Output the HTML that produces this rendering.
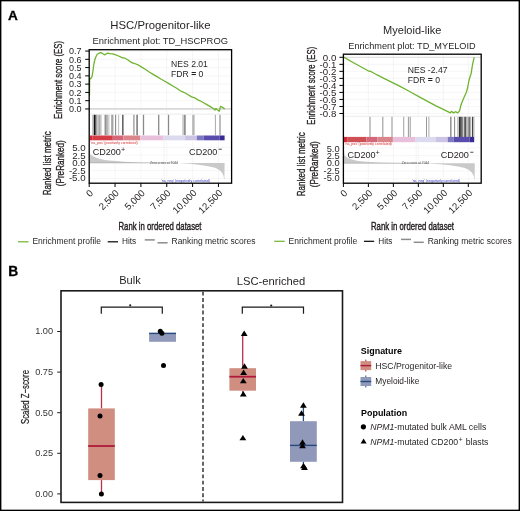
<!DOCTYPE html>
<html><head><meta charset="utf-8"><style>html,body{margin:0;padding:0;background:#fff;}svg{display:block;will-change:transform;}</style></head><body>
<svg width="520" height="511" viewBox="0 0 520 511" font-family='"Liberation Sans", sans-serif'>
<rect x="0" y="0" width="520" height="511" fill="#fff"/>
<rect x="0.7" y="0.65" width="518.6" height="509.7" fill="none" stroke="#000" stroke-width="1.4"/>
<text x="7.9" y="19.8" font-size="13.6" text-anchor="start" fill="#000" font-weight="bold" stroke="#000" stroke-width="0.3">A</text>
<text x="8.3" y="276.3" font-size="13.8" text-anchor="start" fill="#000" font-weight="bold" stroke="#000" stroke-width="0.3">B</text>
<text x="160.4" y="29.4" font-size="11" text-anchor="middle" fill="#231f20" textLength="100.2" lengthAdjust="spacingAndGlyphs">HSC/Progenitor-like</text>
<text x="160.3" y="43.7" font-size="9.3" text-anchor="middle" fill="#231f20" textLength="135.4" lengthAdjust="spacingAndGlyphs">Enrichment plot: TD_HSCPROG</text>
<line x1="89.2" x2="231.6" y1="51.06" y2="51.06" stroke="#f0f0f0" stroke-width="0.6"/>
<line x1="89.2" x2="231.6" y1="59.33" y2="59.33" stroke="#f0f0f0" stroke-width="0.6"/>
<line x1="89.2" x2="231.6" y1="67.60" y2="67.60" stroke="#f0f0f0" stroke-width="0.6"/>
<line x1="89.2" x2="231.6" y1="75.87" y2="75.87" stroke="#f0f0f0" stroke-width="0.6"/>
<line x1="89.2" x2="231.6" y1="84.14" y2="84.14" stroke="#f0f0f0" stroke-width="0.6"/>
<line x1="89.2" x2="231.6" y1="92.41" y2="92.41" stroke="#f0f0f0" stroke-width="0.6"/>
<line x1="89.2" x2="231.6" y1="100.68" y2="100.68" stroke="#f0f0f0" stroke-width="0.6"/>
<line x1="89.2" x2="231.6" y1="108.95" y2="108.95" stroke="#f0f0f0" stroke-width="0.6"/>
<line x1="89.20" x2="89.20" y1="49.7" y2="114.2" stroke="#efefef" stroke-width="0.6"/>
<line x1="115.05" x2="115.05" y1="49.7" y2="114.2" stroke="#efefef" stroke-width="0.6"/>
<line x1="140.90" x2="140.90" y1="49.7" y2="114.2" stroke="#efefef" stroke-width="0.6"/>
<line x1="166.75" x2="166.75" y1="49.7" y2="114.2" stroke="#efefef" stroke-width="0.6"/>
<line x1="192.60" x2="192.60" y1="49.7" y2="114.2" stroke="#efefef" stroke-width="0.6"/>
<line x1="218.45" x2="218.45" y1="49.7" y2="114.2" stroke="#efefef" stroke-width="0.6"/>
<line x1="89.2" x2="231.6" y1="108.95" y2="108.95" stroke="#d9d9d9" stroke-width="1.8"/>
<line x1="89.2" x2="231.6" y1="114.2" y2="114.2" stroke="#ececec" stroke-width="1"/>
<polyline points="89.5,95.6 89.6,78.2 90.6,78.8 92.1,76.3 93.0,70.5 94.0,63.5 95.0,59.2 95.7,57.3 97.2,54.3 99.0,53.2 100.7,52.6 102.1,53.2 103.6,54.2 105.0,54.8 106.5,53.8 107.6,53.1 109.9,53.7 112.2,53.8 114.5,54.3 117.4,55.5 122.7,57.9 124.2,57.8 128.1,60.0 130.0,61.6 133.1,63.2 134.7,63.5 138.6,65.2 141.7,67.1 145.6,69.5 149.6,72.2 153.5,74.6 157.4,76.9 161.3,79.3 165.2,81.5 168.9,83.6 172.8,86.0 176.7,88.3 180.6,91.0 183.8,92.4 185.3,93.0 188.5,95.0 191.6,96.9 194.7,97.8 197.9,99.9 200.0,100.8 203.5,102.7 206.9,104.6 210.4,106.6 213.8,108.8 215.0,110.1 215.9,108.6 217.3,109.7 219.3,111.2 220.5,106.3 222.5,107.4 224.8,109.0" fill="none" stroke="#6fb32f" stroke-width="1.3" stroke-linejoin="round"/>
<text x="81.6" y="54.260000000000005" font-size="9" text-anchor="end" fill="#231f20">0.7</text>
<line x1="85.2" x2="89.2" y1="51.06" y2="51.06" stroke="#000" stroke-width="1"/>
<text x="81.6" y="62.53000000000001" font-size="9" text-anchor="end" fill="#231f20">0.6</text>
<line x1="85.2" x2="89.2" y1="59.33" y2="59.33" stroke="#000" stroke-width="1"/>
<text x="81.6" y="70.80000000000001" font-size="9" text-anchor="end" fill="#231f20">0.5</text>
<line x1="85.2" x2="89.2" y1="67.60" y2="67.60" stroke="#000" stroke-width="1"/>
<text x="81.6" y="79.07000000000001" font-size="9" text-anchor="end" fill="#231f20">0.4</text>
<line x1="85.2" x2="89.2" y1="75.87" y2="75.87" stroke="#000" stroke-width="1"/>
<text x="81.6" y="87.34" font-size="9" text-anchor="end" fill="#231f20">0.3</text>
<line x1="85.2" x2="89.2" y1="84.14" y2="84.14" stroke="#000" stroke-width="1"/>
<text x="81.6" y="95.61" font-size="9" text-anchor="end" fill="#231f20">0.2</text>
<line x1="85.2" x2="89.2" y1="92.41" y2="92.41" stroke="#000" stroke-width="1"/>
<text x="81.6" y="103.88000000000001" font-size="9" text-anchor="end" fill="#231f20">0.1</text>
<line x1="85.2" x2="89.2" y1="100.68" y2="100.68" stroke="#000" stroke-width="1"/>
<text x="81.6" y="112.15" font-size="9" text-anchor="end" fill="#231f20">0.0</text>
<line x1="85.2" x2="89.2" y1="108.95" y2="108.95" stroke="#000" stroke-width="1"/>
<text x="171.1" y="67.4" font-size="8.6" text-anchor="start" fill="#231f20">NES 2.01</text>
<text x="171.1" y="77.4" font-size="8.6" text-anchor="start" fill="#231f20">FDR <tspan font-weight="bold">=</tspan> 0</text>
<rect x="92.30" y="114.8" width="1.2" height="20.39999999999999" fill="#b0b0b0"/>
<rect x="93.80" y="114.8" width="1.4" height="20.39999999999999" fill="#111"/>
<rect x="95.10" y="114.8" width="1" height="20.39999999999999" fill="#555"/>
<rect x="96.10" y="114.8" width="1.2" height="20.39999999999999" fill="#999"/>
<rect x="97.45" y="114.8" width="1.5" height="20.39999999999999" fill="#bbb"/>
<rect x="99.00" y="114.8" width="1" height="20.39999999999999" fill="#aaa"/>
<rect x="100.45" y="114.8" width="0.9" height="20.39999999999999" fill="#999"/>
<rect x="104.00" y="114.8" width="1" height="20.39999999999999" fill="#ccc"/>
<rect x="105.30" y="114.8" width="1.2" height="20.39999999999999" fill="#666"/>
<rect x="106.60" y="114.8" width="1.2" height="20.39999999999999" fill="#aaa"/>
<rect x="108.10" y="114.8" width="1.4" height="20.39999999999999" fill="#ccc"/>
<rect x="111.10" y="114.8" width="1.4" height="20.39999999999999" fill="#aaa"/>
<rect x="112.20" y="114.8" width="1.2" height="20.39999999999999" fill="#999"/>
<rect x="115.05" y="114.8" width="1.1" height="20.39999999999999" fill="#888"/>
<rect x="118.05" y="114.8" width="1.1" height="20.39999999999999" fill="#c0c0c0"/>
<rect x="122.00" y="114.8" width="1.6" height="20.39999999999999" fill="#666"/>
<rect x="133.25" y="114.8" width="1.3" height="20.39999999999999" fill="#999"/>
<rect x="136.30" y="114.8" width="1.2" height="20.39999999999999" fill="#888"/>
<rect x="136.80" y="114.8" width="1.2" height="20.39999999999999" fill="#8a8a8a"/>
<rect x="142.85" y="114.8" width="1.3" height="20.39999999999999" fill="#8a8a8a"/>
<rect x="158.05" y="114.8" width="1.3" height="20.39999999999999" fill="#8a8a8a"/>
<rect x="167.85" y="114.8" width="1.3" height="20.39999999999999" fill="#8a8a8a"/>
<rect x="182.15" y="114.8" width="1.7" height="20.39999999999999" fill="#d0d0d0"/>
<rect x="183.85" y="114.8" width="1.9" height="20.39999999999999" fill="#909090"/>
<rect x="192.20" y="114.8" width="2.4" height="20.39999999999999" fill="#b5b5b5"/>
<rect x="214.90" y="114.8" width="1" height="20.39999999999999" fill="#aaa"/>
<rect x="219.45" y="114.8" width="1.1" height="20.39999999999999" fill="#888"/>
<rect x="89.8" y="135.5" width="2.40" height="4.800000000000011" fill="#d8283a"/>
<rect x="92.2" y="135.5" width="20.60" height="4.800000000000011" fill="#d43c46"/>
<rect x="112.8" y="135.5" width="10.60" height="4.800000000000011" fill="#d4687a"/>
<rect x="123.4" y="135.5" width="16.80" height="4.800000000000011" fill="#da8589"/>
<rect x="140.2" y="135.5" width="23.40" height="4.800000000000011" fill="#e8c0dc"/>
<rect x="163.6" y="135.5" width="21.50" height="4.800000000000011" fill="#dcdaee"/>
<rect x="185.1" y="135.5" width="11.70" height="4.800000000000011" fill="#ccc4e4"/>
<rect x="196.8" y="135.5" width="6.80" height="4.800000000000011" fill="#7e78c0"/>
<rect x="203.6" y="135.5" width="16.00" height="4.800000000000011" fill="#5a4cac"/>
<rect x="219.6" y="135.5" width="5.00" height="4.800000000000011" fill="#3a2a94"/>
<line x1="89.20" x2="89.20" y1="141.3" y2="183.2" stroke="#f0f0f0" stroke-width="0.6"/>
<line x1="115.05" x2="115.05" y1="141.3" y2="183.2" stroke="#f0f0f0" stroke-width="0.6"/>
<line x1="140.90" x2="140.90" y1="141.3" y2="183.2" stroke="#f0f0f0" stroke-width="0.6"/>
<line x1="166.75" x2="166.75" y1="141.3" y2="183.2" stroke="#f0f0f0" stroke-width="0.6"/>
<line x1="192.60" x2="192.60" y1="141.3" y2="183.2" stroke="#f0f0f0" stroke-width="0.6"/>
<line x1="218.45" x2="218.45" y1="141.3" y2="183.2" stroke="#f0f0f0" stroke-width="0.6"/>
<line x1="89.2" x2="231.6" y1="178.40" y2="178.40" stroke="#f0f0f0" stroke-width="0.6"/>
<line x1="89.2" x2="231.6" y1="170.65" y2="170.65" stroke="#f0f0f0" stroke-width="0.6"/>
<line x1="89.2" x2="231.6" y1="155.15" y2="155.15" stroke="#f0f0f0" stroke-width="0.6"/>
<line x1="89.2" x2="231.6" y1="147.40" y2="147.40" stroke="#f0f0f0" stroke-width="0.6"/>
<polygon points="89.6,162.9 89.6,147.8 90.2,154.2 93.7,156.5 97.0,158.0 101.4,159.2 106.0,160.2 112.9,160.8 124.5,161.7 140.0,162.4 161.9,162.9 178.0,163.0 190.0,163.8 200.3,165.0 208.0,166.2 215.0,167.8 219.0,169.7 222.0,172.6 223.5,175.8 224.4,180.4 224.6,162.9" fill="#c9c9c9"/>
<line x1="89.2" x2="178" y1="162.9" y2="162.9" stroke="#9a9a9a" stroke-width="0.5"/>
<line x1="164.1" x2="164.1" y1="141.3" y2="183.2" stroke="#d8d8d8" stroke-width="0.6" stroke-dasharray="1,1"/>
<text x="90.6" y="143.6" font-size="3.2" text-anchor="start" fill="#d42a2a" textLength="47" lengthAdjust="spacingAndGlyphs">'na_pos' (positively correlated)</text>
<text x="150" y="163.9" font-size="2.9" text-anchor="start" fill="#555" textLength="28" lengthAdjust="spacingAndGlyphs">Zero cross at 7044</text>
<text x="161" y="181.6" font-size="3.2" text-anchor="start" fill="#3535c0" textLength="49" lengthAdjust="spacingAndGlyphs">'na_neg' (negatively correlated)</text>
<text x="92.7" y="155.2" font-size="9.3" text-anchor="start" fill="#231f20" textLength="28.2" lengthAdjust="spacingAndGlyphs">CD200</text>
<text x="120.9" y="151.89999999999998" font-size="7.2" text-anchor="start" fill="#231f20">+</text>
<text x="189.1" y="155.2" font-size="9.3" text-anchor="start" fill="#231f20" textLength="28.2" lengthAdjust="spacingAndGlyphs">CD200</text>
<rect x="218.60" y="148.80" width="3.2" height="0.8" fill="#231f20"/>
<text x="85.6" y="151.03199999999998" font-size="9.7" text-anchor="end" fill="#231f20">5.0</text>
<text x="85.6" y="158.61199999999997" font-size="9.7" text-anchor="end" fill="#231f20">2.5</text>
<text x="85.6" y="166.19199999999998" font-size="9.7" text-anchor="end" fill="#231f20">0.0</text>
<text x="85.6" y="173.772" font-size="9.7" text-anchor="end" fill="#231f20">-2.5</text>
<text x="85.6" y="181.35199999999998" font-size="9.7" text-anchor="end" fill="#231f20">-5.0</text>
<rect x="89.2" y="49.7" width="142.39999999999998" height="133.5" fill="none" stroke="#000" stroke-width="1.3"/>
<line x1="89.20" x2="89.20" y1="183.2" y2="187.0" stroke="#000" stroke-width="1"/>
<text transform="translate(93.80,193.60) rotate(-45)" font-size="9.6" text-anchor="end" fill="#231f20">0</text>
<line x1="115.05" x2="115.05" y1="183.2" y2="187.0" stroke="#000" stroke-width="1"/>
<text transform="translate(119.65,193.60) rotate(-45)" font-size="9.6" text-anchor="end" fill="#231f20">2,500</text>
<line x1="140.90" x2="140.90" y1="183.2" y2="187.0" stroke="#000" stroke-width="1"/>
<text transform="translate(145.50,193.60) rotate(-45)" font-size="9.6" text-anchor="end" fill="#231f20">5,000</text>
<line x1="166.75" x2="166.75" y1="183.2" y2="187.0" stroke="#000" stroke-width="1"/>
<text transform="translate(171.35,193.60) rotate(-45)" font-size="9.6" text-anchor="end" fill="#231f20">7,500</text>
<line x1="192.60" x2="192.60" y1="183.2" y2="187.0" stroke="#000" stroke-width="1"/>
<text transform="translate(197.20,193.60) rotate(-45)" font-size="9.6" text-anchor="end" fill="#231f20">10,000</text>
<line x1="218.45" x2="218.45" y1="183.2" y2="187.0" stroke="#000" stroke-width="1"/>
<text transform="translate(223.05,193.60) rotate(-45)" font-size="9.6" text-anchor="end" fill="#231f20">12,500</text>
<text x="160" y="229.7" font-size="11.4" text-anchor="middle" fill="#231f20" textLength="83" lengthAdjust="spacingAndGlyphs" stroke="#231f20" stroke-width="0.42">Rank in ordered dataset</text>
<text transform="translate(62,80) rotate(-90)" font-size="11.8" text-anchor="middle" fill="#231f20" stroke="#231f20" stroke-width="0.35" textLength="78" lengthAdjust="spacingAndGlyphs">Enrichment score (ES)</text>
<text transform="translate(50.5,163.2) rotate(-90)" font-size="11.8" text-anchor="middle" fill="#231f20" stroke="#231f20" stroke-width="0.35" textLength="64" lengthAdjust="spacingAndGlyphs">Ranked list metric</text>
<text transform="translate(64.2,163.2) rotate(-90)" font-size="11.8" text-anchor="middle" fill="#231f20" stroke="#231f20" stroke-width="0.35" textLength="46" lengthAdjust="spacingAndGlyphs">(PreRanked)</text>
<line x1="18" x2="28.5" y1="241.8" y2="241.8" stroke="#6fb32f" stroke-width="1.2"/>
<text x="32.4" y="244.10000000000002" font-size="8.5" text-anchor="start" fill="#231f20" textLength="68.6" lengthAdjust="spacingAndGlyphs">Enrichment profile</text>
<line x1="107.7" x2="118" y1="241.8" y2="241.8" stroke="#000" stroke-width="1.2"/>
<text x="122" y="244.10000000000002" font-size="8.5" text-anchor="start" fill="#231f20" textLength="14.2" lengthAdjust="spacingAndGlyphs">Hits</text>
<line x1="144.8" x2="154.8" y1="239.9" y2="239.9" stroke="#8c8c8c" stroke-width="1.5"/>
<line x1="157.5" x2="167.6" y1="242.8" y2="242.8" stroke="#8c8c8c" stroke-width="1.5"/>
<text x="171.5" y="244.10000000000002" font-size="8.5" text-anchor="start" fill="#231f20" textLength="84" lengthAdjust="spacingAndGlyphs">Ranking metric scores</text>
<text x="412.2" y="33.9" font-size="11" text-anchor="middle" fill="#231f20" textLength="58.2" lengthAdjust="spacingAndGlyphs">Myeloid-like</text>
<text x="412" y="48.8" font-size="9.3" text-anchor="middle" fill="#231f20" textLength="127.4" lengthAdjust="spacingAndGlyphs">Enrichment plot: TD_MYELOID</text>
<line x1="343.4" x2="481.2" y1="57.30" y2="57.30" stroke="#f0f0f0" stroke-width="0.6"/>
<line x1="343.4" x2="481.2" y1="64.33" y2="64.33" stroke="#f0f0f0" stroke-width="0.6"/>
<line x1="343.4" x2="481.2" y1="71.35" y2="71.35" stroke="#f0f0f0" stroke-width="0.6"/>
<line x1="343.4" x2="481.2" y1="78.38" y2="78.38" stroke="#f0f0f0" stroke-width="0.6"/>
<line x1="343.4" x2="481.2" y1="85.40" y2="85.40" stroke="#f0f0f0" stroke-width="0.6"/>
<line x1="343.4" x2="481.2" y1="92.42" y2="92.42" stroke="#f0f0f0" stroke-width="0.6"/>
<line x1="343.4" x2="481.2" y1="99.45" y2="99.45" stroke="#f0f0f0" stroke-width="0.6"/>
<line x1="343.4" x2="481.2" y1="106.47" y2="106.47" stroke="#f0f0f0" stroke-width="0.6"/>
<line x1="343.4" x2="481.2" y1="113.50" y2="113.50" stroke="#f0f0f0" stroke-width="0.6"/>
<line x1="343.40" x2="343.40" y1="54.2" y2="116.3" stroke="#efefef" stroke-width="0.6"/>
<line x1="368.38" x2="368.38" y1="54.2" y2="116.3" stroke="#efefef" stroke-width="0.6"/>
<line x1="393.36" x2="393.36" y1="54.2" y2="116.3" stroke="#efefef" stroke-width="0.6"/>
<line x1="418.34" x2="418.34" y1="54.2" y2="116.3" stroke="#efefef" stroke-width="0.6"/>
<line x1="443.32" x2="443.32" y1="54.2" y2="116.3" stroke="#efefef" stroke-width="0.6"/>
<line x1="468.30" x2="468.30" y1="54.2" y2="116.3" stroke="#efefef" stroke-width="0.6"/>
<line x1="343.4" x2="481.2" y1="57.3" y2="57.3" stroke="#dcdcdc" stroke-width="1.0"/>
<line x1="343.4" x2="481.2" y1="116.3" y2="116.3" stroke="#ececec" stroke-width="1"/>
<polyline points="343.6,57.3 344.2,57.4 352.6,62.2 362.2,67.5 369.0,71.2 370.9,71.5 376.7,74.7 383.4,78.1 390.0,81.3 399.6,86.1 409.2,91.3 418.8,96.6 428.5,101.9 436.0,105.8 443.3,109.3 450.3,112.9 451.5,111.4 453.6,112.9 455.4,111.7 457.8,112.9 459.6,110.8 460.6,106.5 461.5,103.5 462.7,100.5 464.0,97.5 465.7,93.8 466.6,91.5 467.5,88.3 468.4,83.5 469.3,79.2 470.3,76.0 471.2,73.2 472.1,67.1 473.0,62.3 474.2,57.4" fill="none" stroke="#6fb32f" stroke-width="1.3" stroke-linejoin="round"/>
<text x="336.3" y="60.699999999999996" font-size="9.7" text-anchor="end" fill="#231f20">0.0</text>
<line x1="339.4" x2="343.4" y1="57.30" y2="57.30" stroke="#000" stroke-width="1"/>
<text x="336.3" y="67.72500000000001" font-size="9.7" text-anchor="end" fill="#231f20">-0.1</text>
<line x1="339.4" x2="343.4" y1="64.33" y2="64.33" stroke="#000" stroke-width="1"/>
<text x="336.3" y="74.75" font-size="9.7" text-anchor="end" fill="#231f20">-0.2</text>
<line x1="339.4" x2="343.4" y1="71.35" y2="71.35" stroke="#000" stroke-width="1"/>
<text x="336.3" y="81.775" font-size="9.7" text-anchor="end" fill="#231f20">-0.3</text>
<line x1="339.4" x2="343.4" y1="78.38" y2="78.38" stroke="#000" stroke-width="1"/>
<text x="336.3" y="88.80000000000001" font-size="9.7" text-anchor="end" fill="#231f20">-0.4</text>
<line x1="339.4" x2="343.4" y1="85.40" y2="85.40" stroke="#000" stroke-width="1"/>
<text x="336.3" y="95.825" font-size="9.7" text-anchor="end" fill="#231f20">-0.5</text>
<line x1="339.4" x2="343.4" y1="92.42" y2="92.42" stroke="#000" stroke-width="1"/>
<text x="336.3" y="102.85000000000001" font-size="9.7" text-anchor="end" fill="#231f20">-0.6</text>
<line x1="339.4" x2="343.4" y1="99.45" y2="99.45" stroke="#000" stroke-width="1"/>
<text x="336.3" y="109.875" font-size="9.7" text-anchor="end" fill="#231f20">-0.7</text>
<line x1="339.4" x2="343.4" y1="106.47" y2="106.47" stroke="#000" stroke-width="1"/>
<text x="336.3" y="116.9" font-size="9.7" text-anchor="end" fill="#231f20">-0.8</text>
<line x1="339.4" x2="343.4" y1="113.50" y2="113.50" stroke="#000" stroke-width="1"/>
<text x="407.8" y="72.6" font-size="8.6" text-anchor="start" fill="#231f20">NES -2.47</text>
<text x="407.8" y="82.6" font-size="8.6" text-anchor="start" fill="#231f20">FDR <tspan font-weight="bold">=</tspan> 0</text>
<rect x="369.45" y="116.8" width="1.1" height="20.200000000000003" fill="#999"/>
<rect x="382.25" y="116.8" width="1.1" height="20.200000000000003" fill="#999"/>
<rect x="391.45" y="116.8" width="1.1" height="20.200000000000003" fill="#999"/>
<rect x="403.15" y="116.8" width="1.1" height="20.200000000000003" fill="#aaa"/>
<rect x="407.90" y="116.8" width="1" height="20.200000000000003" fill="#999"/>
<rect x="409.70" y="116.8" width="1" height="20.200000000000003" fill="#999"/>
<rect x="426.00" y="116.8" width="1" height="20.200000000000003" fill="#999"/>
<rect x="428.40" y="116.8" width="1" height="20.200000000000003" fill="#aaa"/>
<rect x="450.00" y="116.8" width="1.6" height="20.200000000000003" fill="#999"/>
<rect x="454.10" y="116.8" width="1" height="20.200000000000003" fill="#888"/>
<rect x="457.00" y="116.8" width="1" height="20.200000000000003" fill="#ccc"/>
<rect x="458.75" y="116.8" width="1.5" height="20.200000000000003" fill="#333"/>
<rect x="460.30" y="116.8" width="1.4" height="20.200000000000003" fill="#222"/>
<rect x="461.80" y="116.8" width="1.6" height="20.200000000000003" fill="#888"/>
<rect x="464.20" y="116.8" width="2.2" height="20.200000000000003" fill="#555"/>
<rect x="466.50" y="116.8" width="1.2" height="20.200000000000003" fill="#aaa"/>
<rect x="468.25" y="116.8" width="2.3" height="20.200000000000003" fill="#777"/>
<rect x="471.90" y="116.8" width="1.4" height="20.200000000000003" fill="#444"/>
<rect x="473.30" y="116.8" width="1.2" height="20.200000000000003" fill="#bbb"/>
<rect x="344" y="136.9" width="3.70" height="5.299999999999983" fill="#d42a36"/>
<rect x="347.7" y="136.9" width="18.80" height="5.299999999999983" fill="#ce5055"/>
<rect x="366.5" y="136.9" width="10.80" height="5.299999999999983" fill="#d4687a"/>
<rect x="377.3" y="136.9" width="15.60" height="5.299999999999983" fill="#da8589"/>
<rect x="392.9" y="136.9" width="22.70" height="5.299999999999983" fill="#e8c0dc"/>
<rect x="415.6" y="136.9" width="20.40" height="5.299999999999983" fill="#dcdaee"/>
<rect x="436" y="136.9" width="11.70" height="5.299999999999983" fill="#ccc4e4"/>
<rect x="447.7" y="136.9" width="6.10" height="5.299999999999983" fill="#7e78c0"/>
<rect x="453.8" y="136.9" width="15.90" height="5.299999999999983" fill="#5a4cac"/>
<rect x="469.7" y="136.9" width="4.50" height="5.299999999999983" fill="#3a2a94"/>
<line x1="343.40" x2="343.40" y1="143.2" y2="183.2" stroke="#f0f0f0" stroke-width="0.6"/>
<line x1="368.38" x2="368.38" y1="143.2" y2="183.2" stroke="#f0f0f0" stroke-width="0.6"/>
<line x1="393.36" x2="393.36" y1="143.2" y2="183.2" stroke="#f0f0f0" stroke-width="0.6"/>
<line x1="418.34" x2="418.34" y1="143.2" y2="183.2" stroke="#f0f0f0" stroke-width="0.6"/>
<line x1="443.32" x2="443.32" y1="143.2" y2="183.2" stroke="#f0f0f0" stroke-width="0.6"/>
<line x1="468.30" x2="468.30" y1="143.2" y2="183.2" stroke="#f0f0f0" stroke-width="0.6"/>
<line x1="343.4" x2="481.2" y1="178.70" y2="178.70" stroke="#f0f0f0" stroke-width="0.6"/>
<line x1="343.4" x2="481.2" y1="171.00" y2="171.00" stroke="#f0f0f0" stroke-width="0.6"/>
<line x1="343.4" x2="481.2" y1="155.60" y2="155.60" stroke="#f0f0f0" stroke-width="0.6"/>
<line x1="343.4" x2="481.2" y1="147.90" y2="147.90" stroke="#f0f0f0" stroke-width="0.6"/>
<polygon points="343.9,163.3 343.9,148.5 344.5,155.4 348.0,158.0 352.0,159.5 358.0,160.9 366.0,161.8 380.0,162.6 416.1,163.3 429.0,163.4 440.0,164.2 450.0,165.3 458.0,166.5 465.0,168.1 469.0,170.0 472.0,172.8 473.8,176.0 474.6,180.7 474.8,163.3" fill="#c9c9c9"/>
<line x1="343.4" x2="429" y1="163.3" y2="163.3" stroke="#9a9a9a" stroke-width="0.5"/>
<line x1="416.1" x2="416.1" y1="143.2" y2="183.2" stroke="#d8d8d8" stroke-width="0.6" stroke-dasharray="1,1"/>
<text x="344.8" y="144.9" font-size="3.2" text-anchor="start" fill="#d42a2a" textLength="47" lengthAdjust="spacingAndGlyphs">'na_pos' (positively correlated)</text>
<text x="401.7" y="164.3" font-size="2.9" text-anchor="start" fill="#555" textLength="27.5" lengthAdjust="spacingAndGlyphs">Zero cross at 7044</text>
<text x="412" y="182" font-size="3.2" text-anchor="start" fill="#3535c0" textLength="48.2" lengthAdjust="spacingAndGlyphs">'na_neg' (negatively correlated)</text>
<text x="347.4" y="158.2" font-size="9.3" text-anchor="start" fill="#231f20" textLength="28.2" lengthAdjust="spacingAndGlyphs">CD200</text>
<text x="375.59999999999997" y="154.89999999999998" font-size="7.2" text-anchor="start" fill="#231f20">+</text>
<text x="440.7" y="158.2" font-size="9.3" text-anchor="start" fill="#231f20" textLength="28.2" lengthAdjust="spacingAndGlyphs">CD200</text>
<rect x="470.20" y="151.80" width="3.2" height="0.8" fill="#231f20"/>
<text x="339.6" y="151.548" font-size="9.3" text-anchor="end" fill="#231f20">5.0</text>
<text x="339.6" y="158.948" font-size="9.3" text-anchor="end" fill="#231f20">2.5</text>
<text x="339.6" y="166.348" font-size="9.3" text-anchor="end" fill="#231f20">0.0</text>
<text x="339.6" y="173.74800000000002" font-size="9.3" text-anchor="end" fill="#231f20">-2.5</text>
<text x="339.6" y="181.14800000000002" font-size="9.3" text-anchor="end" fill="#231f20">-5.0</text>
<rect x="343.4" y="54.2" width="137.8" height="129.0" fill="none" stroke="#000" stroke-width="1.3"/>
<line x1="343.40" x2="343.40" y1="183.2" y2="187.0" stroke="#000" stroke-width="1"/>
<text transform="translate(348.00,193.60) rotate(-45)" font-size="9.6" text-anchor="end" fill="#231f20">0</text>
<line x1="368.38" x2="368.38" y1="183.2" y2="187.0" stroke="#000" stroke-width="1"/>
<text transform="translate(372.98,193.60) rotate(-45)" font-size="9.6" text-anchor="end" fill="#231f20">2,500</text>
<line x1="393.36" x2="393.36" y1="183.2" y2="187.0" stroke="#000" stroke-width="1"/>
<text transform="translate(397.96,193.60) rotate(-45)" font-size="9.6" text-anchor="end" fill="#231f20">5,000</text>
<line x1="418.34" x2="418.34" y1="183.2" y2="187.0" stroke="#000" stroke-width="1"/>
<text transform="translate(422.94,193.60) rotate(-45)" font-size="9.6" text-anchor="end" fill="#231f20">7,500</text>
<line x1="443.32" x2="443.32" y1="183.2" y2="187.0" stroke="#000" stroke-width="1"/>
<text transform="translate(447.92,193.60) rotate(-45)" font-size="9.6" text-anchor="end" fill="#231f20">10,000</text>
<line x1="468.30" x2="468.30" y1="183.2" y2="187.0" stroke="#000" stroke-width="1"/>
<text transform="translate(472.90,193.60) rotate(-45)" font-size="9.6" text-anchor="end" fill="#231f20">12,500</text>
<text x="412.5" y="229.7" font-size="11.4" text-anchor="middle" fill="#231f20" textLength="83" lengthAdjust="spacingAndGlyphs" stroke="#231f20" stroke-width="0.42">Rank in ordered dataset</text>
<text transform="translate(314.5,85.7) rotate(-90)" font-size="11.8" text-anchor="middle" fill="#231f20" stroke="#231f20" stroke-width="0.35" textLength="78" lengthAdjust="spacingAndGlyphs">Enrichment score (ES)</text>
<text transform="translate(305.4,164.2) rotate(-90)" font-size="11.8" text-anchor="middle" fill="#231f20" stroke="#231f20" stroke-width="0.35" textLength="64" lengthAdjust="spacingAndGlyphs">Ranked list metric</text>
<text transform="translate(318.2,164.2) rotate(-90)" font-size="11.8" text-anchor="middle" fill="#231f20" stroke="#231f20" stroke-width="0.35" textLength="46" lengthAdjust="spacingAndGlyphs">(PreRanked)</text>
<line x1="274.2" x2="284.7" y1="241.3" y2="241.3" stroke="#6fb32f" stroke-width="1.2"/>
<text x="288.59999999999997" y="243.60000000000002" font-size="8.5" text-anchor="start" fill="#231f20" textLength="68.6" lengthAdjust="spacingAndGlyphs">Enrichment profile</text>
<line x1="363.9" x2="374.2" y1="241.3" y2="241.3" stroke="#000" stroke-width="1.2"/>
<text x="378.2" y="243.60000000000002" font-size="8.5" text-anchor="start" fill="#231f20" textLength="14.2" lengthAdjust="spacingAndGlyphs">Hits</text>
<line x1="401.0" x2="411.0" y1="239.4" y2="239.4" stroke="#8c8c8c" stroke-width="1.5"/>
<line x1="413.7" x2="423.79999999999995" y1="242.3" y2="242.3" stroke="#8c8c8c" stroke-width="1.5"/>
<text x="427.7" y="243.60000000000002" font-size="8.5" text-anchor="start" fill="#231f20" textLength="84" lengthAdjust="spacingAndGlyphs">Ranking metric scores</text>
<rect x="61" y="290.8" width="281.5" height="211.59999999999997" fill="none" stroke="#1a1a1a" stroke-width="1.6"/>
<line x1="203" x2="203" y1="291.7" y2="501.59999999999997" stroke="#333" stroke-width="1.5" stroke-dasharray="3.9,2.4"/>
<line x1="57.2" x2="61" y1="493.90" y2="493.90" stroke="#231f20" stroke-width="1"/>
<text x="53.1" y="496.7" font-size="9.2" text-anchor="end" fill="#333">0.00</text>
<line x1="57.2" x2="61" y1="453.30" y2="453.30" stroke="#231f20" stroke-width="1"/>
<text x="53.1" y="456.09999999999997" font-size="9.2" text-anchor="end" fill="#333">0.25</text>
<line x1="57.2" x2="61" y1="412.70" y2="412.70" stroke="#231f20" stroke-width="1"/>
<text x="53.1" y="415.5" font-size="9.2" text-anchor="end" fill="#333">0.50</text>
<line x1="57.2" x2="61" y1="372.10" y2="372.10" stroke="#231f20" stroke-width="1"/>
<text x="53.1" y="374.9" font-size="9.2" text-anchor="end" fill="#333">0.75</text>
<line x1="57.2" x2="61" y1="331.50" y2="331.50" stroke="#231f20" stroke-width="1"/>
<text x="53.1" y="334.3" font-size="9.2" text-anchor="end" fill="#333">1.00</text>
<text transform="translate(28.6,397) rotate(-90)" font-size="10.8" text-anchor="middle" fill="#231f20" stroke="#231f20" stroke-width="0.25" textLength="54" lengthAdjust="spacingAndGlyphs">Scaled Z−score</text>
<text x="130" y="284.3" font-size="10.8" text-anchor="middle" fill="#231f20" textLength="21.6" lengthAdjust="spacingAndGlyphs">Bulk</text>
<text x="271" y="284.5" font-size="10.8" text-anchor="middle" fill="#231f20" textLength="68.4" lengthAdjust="spacingAndGlyphs">LSC-enriched</text>
<polyline points="101.3,313.8 101.3,307.2 162.3,307.2 162.3,313.8" fill="none" stroke="#1a1a1a" stroke-width="1.2"/>
<circle cx="130.2" cy="305.3" r="1.1" fill="#231f20"/>
<polyline points="242.3,313.8 242.3,307.2 303.5,307.2 303.5,313.8" fill="none" stroke="#1a1a1a" stroke-width="1.2"/>
<circle cx="271.2" cy="305.6" r="1.1" fill="#231f20"/>
<line x1="101.5" x2="101.5" y1="385" y2="408.4" stroke="#b8304e" stroke-width="1.3"/>
<line x1="101.5" x2="101.5" y1="480.1" y2="493.8" stroke="#b8304e" stroke-width="1.3"/>
<rect x="88.2" y="408.4" width="26.599999999999994" height="71.70000000000005" fill="#cf8e80"/>
<line x1="88.2" x2="114.8" y1="446.0" y2="446.0" stroke="#b01a3a" stroke-width="1.8"/>
<circle cx="101.1" cy="384.5" r="2.5" fill="#000"/>
<circle cx="100" cy="416" r="2.5" fill="#000"/>
<circle cx="100" cy="475.5" r="2.5" fill="#000"/>
<circle cx="101.4" cy="494.1" r="2.5" fill="#000"/>
<line x1="162.55" x2="162.55" y1="332.9" y2="332.9" stroke="#264a80" stroke-width="1.3"/>
<line x1="162.55" x2="162.55" y1="341.8" y2="341.8" stroke="#264a80" stroke-width="1.3"/>
<rect x="149.1" y="332.9" width="26.900000000000006" height="8.900000000000034" fill="#9099ba"/>
<line x1="149.1" x2="176" y1="333.4" y2="333.4" stroke="#264a80" stroke-width="1.4"/>
<circle cx="160.3" cy="331.3" r="2.5" fill="#000"/>
<circle cx="161.9" cy="333.3" r="2.5" fill="#000"/>
<circle cx="163.5" cy="365.4" r="2.5" fill="#000"/>
<line x1="242.7" x2="242.7" y1="333.5" y2="368.2" stroke="#b8304e" stroke-width="1.3"/>
<line x1="242.7" x2="242.7" y1="390.7" y2="394" stroke="#b8304e" stroke-width="1.3"/>
<rect x="229.4" y="368.2" width="26.599999999999994" height="22.5" fill="#cf8e80"/>
<line x1="229.4" x2="256.0" y1="376.7" y2="376.7" stroke="#b01a3a" stroke-width="1.8"/>
<polygon points="240.80,335.92 247.60,335.92 244.20,330.48" fill="#000"/>
<polygon points="241.10,368.72 247.90,368.72 244.50,363.28" fill="#000"/>
<polygon points="240.20,375.02 247.00,375.02 243.60,369.58" fill="#000"/>
<polygon points="239.90,383.32 246.70,383.32 243.30,377.88" fill="#000"/>
<polygon points="239.90,396.52 246.70,396.52 243.30,391.08" fill="#000"/>
<polygon points="239.50,440.32 246.30,440.32 242.90,434.88" fill="#000"/>
<line x1="303.4" x2="303.4" y1="405" y2="421.2" stroke="#264a80" stroke-width="1.3"/>
<line x1="303.4" x2="303.4" y1="461.8" y2="467" stroke="#264a80" stroke-width="1.3"/>
<rect x="290" y="421.2" width="26.80000000000001" height="40.60000000000002" fill="#9099ba"/>
<line x1="290" x2="316.8" y1="445.4" y2="445.4" stroke="#264a80" stroke-width="1.4"/>
<polygon points="300.00,407.72 306.80,407.72 303.40,402.28" fill="#000"/>
<polygon points="298.10,415.72 304.90,415.72 301.50,410.28" fill="#000"/>
<polygon points="299.10,444.72 305.90,444.72 302.50,439.28" fill="#000"/>
<polygon points="299.10,448.22 305.90,448.22 302.50,442.78" fill="#000"/>
<polygon points="300.10,468.32 306.90,468.32 303.50,462.88" fill="#000"/>
<polygon points="301.10,470.02 307.90,470.02 304.50,464.58" fill="#000"/>
<text x="360.8" y="353.6" font-size="8.9" text-anchor="start" fill="#000" font-weight="bold" textLength="41.2" lengthAdjust="spacingAndGlyphs">Signature</text>
<line x1="365.8" x2="365.8" y1="359.6" y2="371.6" stroke="#b01a3a" stroke-width="1"/><rect x="360.5" y="361.1" width="10.7" height="9" fill="#cf8e80"/><line x1="360.5" x2="371.2" y1="365.6" y2="365.6" stroke="#b01a3a" stroke-width="1.4"/>
<line x1="365.8" x2="365.8" y1="375.5" y2="387.5" stroke="#264a80" stroke-width="1"/><rect x="360.5" y="377.0" width="10.7" height="9" fill="#9099ba"/><line x1="360.5" x2="371.2" y1="381.5" y2="381.5" stroke="#264a80" stroke-width="1.4"/>
<text x="375.3" y="368.6" font-size="8.7" text-anchor="start" fill="#231f20" textLength="76.8" lengthAdjust="spacingAndGlyphs">HSC/Progenitor-like</text>
<text x="375.3" y="384.4" font-size="8.7" text-anchor="start" fill="#231f20" textLength="44" lengthAdjust="spacingAndGlyphs">Myeloid-like</text>
<text x="361.1" y="416" font-size="8.9" text-anchor="start" fill="#000" font-weight="bold" textLength="46" lengthAdjust="spacingAndGlyphs">Population</text>
<circle cx="363.4" cy="426.8" r="2.6" fill="#000"/>
<polygon points="360.60,443.40 366.60,443.40 363.60,438.60" fill="#000"/>
<text x="370.2" y="429.7" font-size="8.7" fill="#231f20"><tspan font-style="italic">NPM1</tspan>-mutated bulk AML cells</text>
<text x="370.2" y="444.9" font-size="8.7" fill="#231f20"><tspan font-style="italic">NPM1</tspan>-mutated CD200<tspan font-size="6.5" dx="0.6" dy="-3.4">+</tspan><tspan dx="0.8" dy="3.4"> blasts</tspan></text>
</svg>
</body></html>
